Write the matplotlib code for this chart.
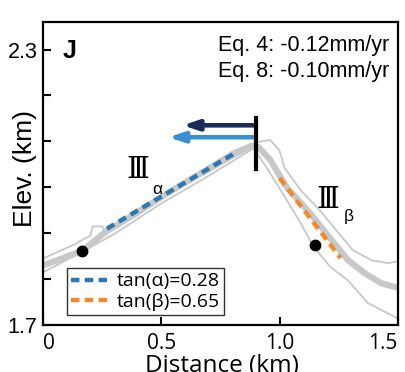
import numpy as np
import matplotlib
matplotlib.use('Agg')
import matplotlib.pyplot as plt

# profile data (km)
main_x = [0, 0.08, 0.165, 0.27, 0.40, 0.525, 0.65, 0.81, 0.88, 0.91, 0.96, 1.03, 1.13, 1.22, 1.29, 1.36, 1.43, 1.51]
main_z = [1.83, 1.845, 1.862, 1.905, 1.945, 1.987, 2.025, 2.072, 2.09, 2.088, 2.06, 2.0, 1.943, 1.885, 1.841, 1.813, 1.791, 1.78]

upper_x = [0, 0.13, 0.20, 0.21, 0.25, 0.26, 0.40, 0.60, 0.80, 0.90, 0.96, 1.00, 1.02, 1.09, 1.17, 1.25, 1.31, 1.39, 1.46, 1.51]
upper_z = [1.845, 1.875, 1.895, 1.915, 1.915, 1.905, 1.952, 2.015, 2.078, 2.098, 2.103, 2.08, 2.043, 1.993, 1.95, 1.90, 1.863, 1.841, 1.835, 1.84]

lower_x = [0, 0.13, 0.30, 0.50, 0.70, 0.85, 0.89, 0.945, 1.013, 1.089, 1.144, 1.216, 1.288, 1.373, 1.51]
lower_z = [1.815, 1.85, 1.898, 1.965, 2.025, 2.072, 2.085, 2.043, 1.987, 1.922, 1.87, 1.826, 1.798, 1.748, 1.712]

alpha_x = [0.27, 0.81]
alpha_z = [1.91, 2.074]
beta_x = [1.0, 1.258]
beta_z = [2.02, 1.846]

dots_x = [0.165, 1.148]
dots_z = [1.861, 1.874]

divide_x = 0.9
divide_z = [2.04, 2.15]
arrow_tips = [0.59, 0.53]
arrow_z = [2.135, 2.109]
arrow_colors = ['#1c2b5e', '#3a8fd2']

xticks = [0, 0.5, 1.0, 1.5]
xticklabels = ['0', '0.5', '1.0', '1.5']
yticks = [1.7, 1.8, 1.9, 2.0, 2.1, 2.2, 2.3]
yticklabels = ['1.7', '', '', '', '', '', '2.3']

fig = plt.figure(figsize=(4.06, 3.72), dpi=100)
ax = fig.add_axes([0.106, 0.126, 0.874, 0.815])

ax.plot(upper_x, upper_z, color='#c8c8c8', lw=1.3, zorder=1)
ax.plot(lower_x, lower_z, color='#c8c8c8', lw=1.3, zorder=1)
ax.plot(main_x, main_z, color='#c8c8c8', lw=4.5, solid_capstyle='butt', zorder=2)

la, = ax.plot(alpha_x, alpha_z, color='#2b78b5', lw=3.2, dashes=(1.9, 1.2), zorder=3)
lb, = ax.plot(beta_x, beta_z, color='#f08a2c', lw=3.2, dashes=(1.9, 1.2), zorder=3)

ax.plot(dots_x, dots_z, 'o', color='black', ms=7.5, zorder=4)
ax.plot([divide_x, divide_x], divide_z, color='black', lw=3, zorder=5)

for tip, z, c in zip(arrow_tips, arrow_z, arrow_colors):
    ax.annotate('', xy=(tip, z), xytext=(divide_x, z),
                arrowprops=dict(arrowstyle='-|>,head_width=0.3,head_length=0.9',
                                color=c, lw=3.3, shrinkA=0, shrinkB=0), zorder=4)

# labels on the profile
ax.text(0.40, 2.037, 'Ⅲ', fontsize=21, family='DejaVu Serif', ha='center', va='center')
ax.text(0.482, 1.996, 'α', fontsize=12.5, family='Liberation Sans', ha='center', va='center')
ax.text(1.203, 1.972, 'Ⅲ', fontsize=21, family='DejaVu Serif', ha='center', va='center')
ax.text(1.292, 1.936, 'β', fontsize=12.5, family='Liberation Sans', ha='center', va='center')

ax.text(0.054, 0.944, 'J', transform=ax.transAxes, fontsize=18, family='Liberation Sans',
        fontweight='bold', ha='left', va='top')
ax.text(0.975, 0.904, 'Eq. 4: -0.12mm/yr', transform=ax.transAxes,
        fontsize=15.5, family='Liberation Sans', ha='right', va='baseline')
ax.text(0.975, 0.817, 'Eq. 8: -0.10mm/yr', transform=ax.transAxes,
        fontsize=15.5, family='Liberation Sans', ha='right', va='baseline')

ax.set_xlim(0, 1.5)
ax.set_ylim(1.7, 2.36)
ax.set_xticks(xticks)
ax.set_xticklabels(xticklabels, family='Open Sans', fontsize=15)
xl = ax.get_xticklabels()
xl[0].set_ha('left')
xl[-1].set_ha('right')
ax.set_yticks(yticks)
ax.set_yticklabels(yticklabels, family='Liberation Sans', fontsize=15.5)
ax.tick_params(direction='in', length=6, width=1.5)
ax.tick_params(axis='x', pad=6)
ax.tick_params(axis='y', pad=4)
for s in ax.spines.values():
    s.set_linewidth(1.6)

fig.text(222 / 406, 1 - 354 / 372, 'Distance (km)', family='Open Sans', fontsize=17.5,
         ha='center', va='top')
fig.text(25 / 406, 1 - 168 / 372, 'Elev. (km)', family='Liberation Sans', fontsize=19,
         rotation=90, ha='center', va='center')

leg = ax.legend([la, lb], ['tan(α)=0.28', 'tan(β)=0.65'], loc='lower left',
                bbox_to_anchor=(0.068, 0.033), prop={'family': 'Open Sans', 'size': 14},
                frameon=True, fancybox=False, handlelength=2.0, handletextpad=0.35,
                borderpad=0.2, labelspacing=0.15, borderaxespad=0)
leg.get_frame().set_edgecolor('black')
leg.get_frame().set_linewidth(1.0)

fig.savefig('out.png', dpi=100)
